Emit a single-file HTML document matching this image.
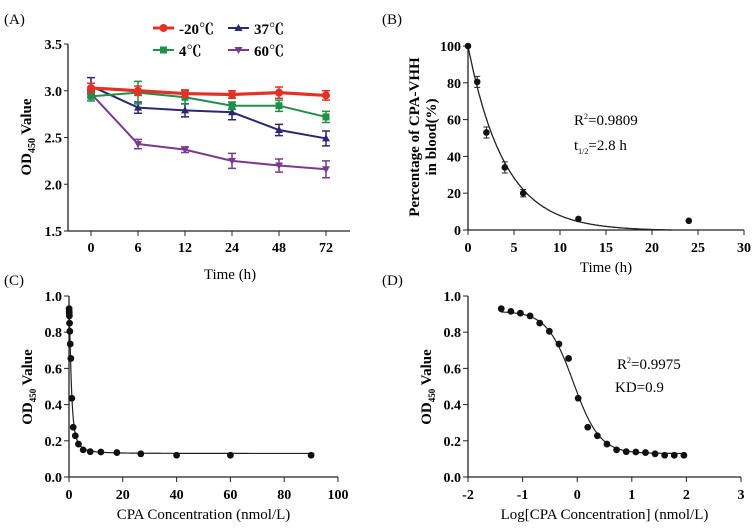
<!DOCTYPE html>
<html><head><meta charset="utf-8"><style>
body{margin:0;background:#fff;}
svg{display:block;font-family:"Liberation Serif","Noto Serif CJK SC",serif;}
.tk{font-size:14px;font-weight:bold;}
.tt{font-size:15px;}
.bt{font-size:15px;font-weight:bold;}
</style></head><body>
<svg id="s" width="755" height="529" viewBox="0 0 755 529">
<text x="4" y="24" class="tt" font-size="15">(A)</text>
<text x="382" y="24" class="tt">(B)</text>
<text x="4" y="285" class="tt">(C)</text>
<text x="382" y="285" class="tt">(D)</text>
<g id="A"></g>
<g id="B"></g>
<g id="C"></g>
<g id="D"></g>
</svg>
<script>
// Panel A data
const aCats=["0","6","12","24","48","72"];
const aNames=["-20℃","4℃","37℃","60℃"];
const aM20=[3.03,3.00,2.97,2.96,2.98,2.95];
const aE20=[0.05,0.05,0.04,0.04,0.06,0.05];
const aM4=[2.94,2.98,2.93,2.84,2.84,2.72];
const aE4=[0.05,0.12,0.07,0.04,0.06,0.06];
const aM37=[3.05,2.82,2.79,2.77,2.58,2.49];
const aE37=[0.09,0.06,0.07,0.08,0.06,0.08];
const aM60=[2.97,2.43,2.37,2.25,2.20,2.16];
const aE60=[0.04,0.05,0.03,0.08,0.07,0.09];
const aTicks=["1.5","2.0","2.5","3.0","3.5"];
// Panel B data
const bT=[0,1,2,4,6,12,24];
const bP=[100,80.5,53,34,20,6,5];
const bE=[0,3,3,3,2,0,0];
const bXT=[0,5,10,15,20,25,30];
const bYT=[0,20,40,60,80,100];
const bK=0.25, bPlat=-0.4;
// Panels C/D data
const cConc=[0.0406,0.061,0.091,0.137,0.206,0.309,0.463,0.694,1.04,1.56,2.34,3.51,5.27,7.9,11.85,17.8,26.7,40,60,90];
const cOD=[0.93,0.915,0.905,0.89,0.85,0.805,0.735,0.655,0.435,0.275,0.228,0.182,0.15,0.14,0.138,0.135,0.128,0.12,0.12,0.12];
const cXT=[0,20,40,60,80,100];
const dXT=[-2,-1,0,1,2,3];
const odYT=["0.0","0.2","0.4","0.6","0.8","1.0"];
const fitTop=0.915,fitBot=0.13,fitLogEC=-0.07,fitHill=1.8;

const NS="http://www.w3.org/2000/svg";
function mk(p,t,at,txt){const e=document.createElementNS(NS,t);for(const k in at)e.setAttribute(k,at[k]);if(txt!==undefined)e.textContent=txt;p.appendChild(e);return e;}
function fit(lx){return fitBot+(fitTop-fitBot)/(1+Math.pow(10,(lx-fitLogEC)*fitHill));}

// ---- Panel A
(function(){
const g=document.getElementById('A');
const x0=68,xr=350,yA=y=>231-(y-1.5)*(187/2);
const xA=i=>91+i*47;
let e=mk(g,'path',{d:`M${x0},44V231H${xr}`,stroke:'#222','stroke-width':1.3,fill:'none'});

aTicks.forEach(t=>{const v=parseFloat(t);mk(g,'line',{x1:x0-4,x2:x0,y1:yA(v),y2:yA(v),stroke:'#222'});
 e=mk(g,'text',{x:x0-6,y:yA(v)+5,'text-anchor':'end',class:'tk'},t);
 });
aCats.forEach((c,i)=>{mk(g,'line',{x1:xA(i),x2:xA(i),y1:231,y2:236,stroke:'#222'});
 e=mk(g,'text',{x:xA(i),y:252,'text-anchor':'middle',class:'tk'},c);
 });
e=mk(g,'text',{x:230,y:279,'text-anchor':'middle',class:'tt'},'Time (h)');

e=mk(g,'text',{transform:'translate(31,137) rotate(-90)','text-anchor':'middle',class:'bt'});
e.innerHTML='OD<tspan font-size="10" dy="4">450</tspan><tspan dy="-4"> Value</tspan>';

const series=[[aM60,aE60,'#7a3b8f','tri-down'],[aM37,aE37,'#2c2870','tri'],[aM4,aE4,'#1f8f4a','sq'],[aM20,aE20,'#e33127','circ']];
function marker(p,x,y,type,col){
 if(type==='circ')return mk(p,'circle',{cx:x,cy:y,r:4,fill:col});
 if(type==='sq')return mk(p,'rect',{x:x-3.5,y:y-3.5,width:7,height:7,fill:col});
 if(type==='tri')return mk(p,'path',{d:`M${x},${y-4}L${x+4},${y+3}L${x-4},${y+3}Z`,fill:col});
 return mk(p,'path',{d:`M${x},${y+4}L${x+4},${y-3}L${x-4},${y-3}Z`,fill:col});}
series.forEach(([m,er,col,type])=>{
 const sg=mk(g,'g',{});
 
 mk(sg,'polyline',{points:m.map((v,i)=>xA(i)+','+yA(v)).join(' '),fill:'none',stroke:col,'stroke-width':type==='circ'?3.2:2});
 m.forEach((v,i)=>{const x=xA(i);
  mk(sg,'path',{d:`M${x},${yA(v+er[i])}V${yA(v-er[i])}M${x-4},${yA(v+er[i])}H${x+4}M${x-4},${yA(v-er[i])}H${x+4}`,stroke:col,'stroke-width':1.5,fill:'none'});
  const mm=marker(sg,x,yA(v),type,col);
  });
});
const leg=[[aNames[0],'#e33127','circ',153,28],[aNames[2],'#2c2870','tri',228,28],[aNames[1],'#1f8f4a','sq',153,50],[aNames[3],'#7a3b8f','tri-down',228,50]];
leg.forEach(([n,col,type,x,y])=>{const lg=mk(g,'g',{});
 
 mk(lg,'line',{x1:x,x2:x+21,y1:y,y2:y,stroke:col,'stroke-width':type==='circ'?3:2});
 marker(lg,x+10.5,y,type,col);
 mk(lg,'text',{x:x+26,y:y+6,class:'bt','font-size':'16'},n);});
})();

// ---- Panel B
(function(){
const g=document.getElementById('B');
const xB=t=>468+t*(276/30),yB=v=>230-v*1.84;
let e=mk(g,'path',{d:`M468,46V230H744`,stroke:'#222','stroke-width':1.3,fill:'none'});

bYT.forEach(t=>{mk(g,'line',{x1:463,x2:468,y1:yB(t),y2:yB(t),stroke:'#222'});
 e=mk(g,'text',{x:461,y:yB(t)+5,'text-anchor':'end',class:'tk'},t);
 });
bXT.forEach(t=>{mk(g,'line',{x1:xB(t),x2:xB(t),y1:230,y2:235,stroke:'#222'});
 e=mk(g,'text',{x:xB(t),y:252,'text-anchor':'middle',class:'tk'},t);
 });
e=mk(g,'text',{x:606,y:272,'text-anchor':'middle',class:'tt'},'Time (h)');

e=mk(g,'text',{transform:'translate(419,137) rotate(-90)','text-anchor':'middle',class:'bt'},'Percentage of CPA-VHH');

mk(g,'text',{transform:'translate(436,137) rotate(-90)','text-anchor':'middle',class:'bt'},'in blood(%)');
let pts=[];for(let t=0;t<=30;t+=0.1){const v=(100-bPlat)*Math.exp(-bK*t)+bPlat;if(v<0)break;pts.push(xB(t).toFixed(1)+','+yB(v).toFixed(1));}
e=mk(g,'polyline',{points:pts.join(' '),fill:'none',stroke:'#222','stroke-width':1.3});

bT.forEach((t,i)=>{const x=xB(t),v=bP[i];
 if(bE[i])mk(g,'path',{d:`M${x},${yB(v+bE[i])}V${yB(v-bE[i])}M${x-3},${yB(v+bE[i])}H${x+3}M${x-3},${yB(v-bE[i])}H${x+3}`,stroke:'#222',fill:'none'});
 e=mk(g,'circle',{cx:x,cy:yB(v),r:3.3,fill:'#111'});
 });
e=mk(g,'text',{x:574,y:125,class:'tt'});e.innerHTML='R<tspan font-size="8" dy="-6">2</tspan><tspan dy="6">=0.9809</tspan>';

e=mk(g,'text',{x:574,y:150,class:'tt'});e.innerHTML='t<tspan font-size="8" dy="4">1/2</tspan><tspan dy="-4">=2.8 h</tspan>';

})();

// ---- Panels C & D
function odAxes(g,pre,x0,xr,xT,xS,xlabel){
 const yO=v=>477-v*181;
 let e=mk(g,'path',{d:`M${x0},296V477H${xr}`,stroke:'#222','stroke-width':1.3,fill:'none'});
 
 odYT.forEach(t=>{const v=parseFloat(t);mk(g,'line',{x1:x0-5,x2:x0,y1:yO(v),y2:yO(v),stroke:'#222'});
  e=mk(g,'text',{x:x0-7,y:yO(v)+5,'text-anchor':'end',class:'tk'},t);
  });
 xT.forEach(t=>{mk(g,'line',{x1:xS(t),x2:xS(t),y1:477,y2:482,stroke:'#222'});
  e=mk(g,'text',{x:xS(t),y:499,'text-anchor':'middle',class:'tk'},t);
  });
 e=mk(g,'text',{x:(x0+xr)/2,y:519,'text-anchor':'middle',class:'tt'},xlabel);
 
 e=mk(g,'text',{transform:`translate(${x0-37},387) rotate(-90)`,'text-anchor':'middle',class:'bt'});
 e.innerHTML='OD<tspan font-size="9" dy="4">450</tspan><tspan dy="-4">  Value</tspan>';
 
 return yO;}
(function(){
const g=document.getElementById('C');
const xC=c=>69+c*2.69;
const yO=odAxes(g,'c',69,338,cXT,xC,'CPA Concentration (nmol/L)');
let pts=[];for(let lx=-2.5;lx<=1.96;lx+=0.01){pts.push(xC(Math.pow(10,lx)).toFixed(2)+','+yO(fit(lx)).toFixed(2));}
let e=mk(g,'polyline',{points:pts.join(' '),fill:'none',stroke:'#222','stroke-width':1.2});

cConc.forEach((c,i)=>{e=mk(g,'circle',{cx:xC(c),cy:yO(cOD[i]),r:3.4,fill:'#111'});
 });
})();
(function(){
const g=document.getElementById('D');
const xD=l=>468+(l+2)*54.6;
const yO=odAxes(g,'d',468,741,dXT,xD,'Log[CPA Concentration] (nmol/L)');
let pts=[];for(let lx=-1.4;lx<=1.96;lx+=0.02){pts.push(xD(lx).toFixed(2)+','+yO(fit(lx)).toFixed(2));}
let e=mk(g,'polyline',{points:pts.join(' '),fill:'none',stroke:'#222','stroke-width':1.2});

cConc.forEach((c,i)=>{e=mk(g,'circle',{cx:xD(Math.log10(c)),cy:yO(cOD[i]),r:3.4,fill:'#111'});
 });
e=mk(g,'text',{x:617,y:369,class:'tt'});e.innerHTML='R<tspan font-size="8" dy="-6">2</tspan><tspan dy="6">=0.9975</tspan>';

e=mk(g,'text',{x:615,y:392,class:'tt'},'KD=0.9');

})();
</script>
</body></html>
